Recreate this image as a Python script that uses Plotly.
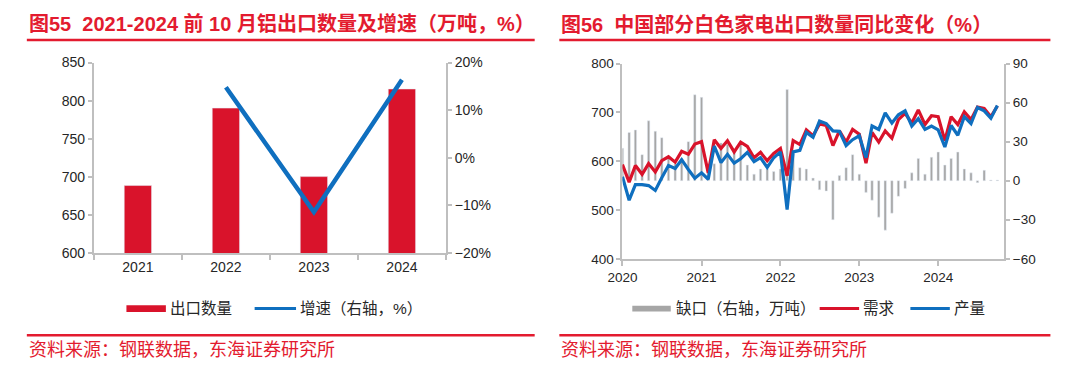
import pandas as pd
import plotly.graph_objects as go

# ---------------- data ----------------
years = ["2021", "2022", "2023", "2024"]
export_qty = [688.6, 790.2, 700.3, 815.3]          # 万吨
export_growth = [None, 0.148, -0.114, 0.164]        # 增速

month_start = "2020-01-01"
n_months = 58                                       # Jan 2020 - Oct 2024
year_labels = ["2020", "2021", "2022", "2023", "2024"]
demand = [593, 557, 591, 573, 595, 578, 601, 609, 598, 620, 614, 635,
          640, 576, 644, 626, 642, 619, 639, 630, 607, 618, 601, 616,
          626, 570, 642, 634, 664, 652, 676, 673, 632, 662, 639, 665,
          655, 596, 659, 639, 662, 647, 685, 698, 678, 705, 675, 693,
          691, 642, 691, 675, 701, 685, 711, 708, 691, 713]
production = [568, 520, 552, 552, 550, 540, 566, 591, 585, 603, 583, 565,
              576, 563, 631, 597, 614, 596, 605, 618, 599, 607, 587, 607,
              619, 501, 619, 622, 659, 649, 682, 677, 662, 661, 632, 644,
              652, 607, 672, 665, 699, 678, 695, 703, 672, 687, 665, 672,
              664, 629, 673, 653, 691, 677, 710, 703, 688, 714]
gap = [25, 37, 39, 20, 46, 38, 33, 18, 13, 17, 30, 66,
       64, 13, 13, 29, 28, 23, 30, 12, 5, 9, 9, 7,
       9, 70, 22, 10, 9, 2, -7, -8, -30, 4, 10, 20,
       5, -9, -15, -28, -38, -25, -12, -6, 6, 17, 5, 18,
       22, 12, 17, 22, 9, 6, -1.5, 8, 0.5, 0.5]

titles = ["图55  2021-2024 前 10 月铝出口数量及增速（万吨，%）",
          "图56  中国部分白色家电出口数量同比变化（%）"]
source_text = "资料来源：钢联数据，东海证券研究所"
legend1 = ["出口数量", "增速（右轴，%）"]
legend2 = ["缺口（右轴，万吨）", "需求", "产量"]

# ---------------- styles ----------------
W, H = 1080, 374
RED = "#D9132B"
TITLE_RED = "#E31B2F"
BLUE = "#0F6FBF"
GREY = "#A6A6A6"
AXIS = "#BFBFBF"
TXT = "#262626"
FONT = "Liberation Sans, Arial, Noto Sans CJK SC, sans-serif"


def px(x):
    return x / W


def py(y):
    return 1 - y / H


months = pd.date_range(month_start, periods=n_months, freq="MS")
year_ticks = pd.date_range(month_start, periods=len(year_labels), freq="12MS")

fig = go.Figure()

# panel 1
fig.add_trace(go.Bar(x=years, y=export_qty, name=legend1[0], marker_color=RED,
                     xaxis="x", yaxis="y", showlegend=False))
fig.add_trace(go.Scatter(x=years, y=export_growth, name=legend1[1], mode="lines",
                         line=dict(color=BLUE, width=4.5), xaxis="x", yaxis="y2",
                         showlegend=False))

# panel 2 (bars on base axis so lines are drawn above)
fig.add_trace(go.Bar(x=months, y=gap, name=legend2[0], marker_color=GREY,
                     width=11 * 86400000, xaxis="x2", yaxis="y3", showlegend=False))
fig.add_trace(go.Scatter(x=months, y=demand, name=legend2[1], mode="lines",
                         line=dict(color=RED, width=3.2), xaxis="x2", yaxis="y4",
                         showlegend=False))
fig.add_trace(go.Scatter(x=months, y=production, name=legend2[2], mode="lines",
                         line=dict(color=BLUE, width=3.2), xaxis="x2", yaxis="y4",
                         showlegend=False))

axis_common = dict(showline=True, linecolor=AXIS, linewidth=2, showgrid=False,
                   zeroline=False, ticks="outside", tickcolor=AXIS, ticklen=4,
                   tickwidth=1.5, tickfont=dict(family=FONT, size=14, color=TXT))

# domains
d1x = [px(80), px(437)]
d1y = [py(256), py(57)]
d2x = [px(616), px(1003)]
d2y = [py(262), py(58)]

TF2 = dict(family=FONT, size=13.5, color=TXT)

fig.update_layout(
    width=W, height=H, margin=dict(l=0, r=0, t=0, b=0),
    paper_bgcolor="white", plot_bgcolor="white",
    bargap=0.69, showlegend=False,
    xaxis=dict(axis_common, domain=d1x, type="category", tickson="boundaries",
               ticklen=5, anchor="y"),
    yaxis=dict(axis_common, domain=d1y, range=[600, 850], dtick=50, anchor="x"),
    yaxis2=dict(axis_common, domain=d1y, range=[-0.2, 0.2], dtick=0.1,
                tickformat=".0%", overlaying="y", side="right", anchor="x"),
    xaxis2=dict(axis_common, domain=d2x, type="date",
                range=[months[0], pd.Timestamp("2024-11-01")],
                tickvals=list(year_ticks), ticktext=year_labels, ticklen=5,
                anchor="y3", tickfont=TF2),
    yaxis3=dict(axis_common, domain=d2y, range=[-60, 90], dtick=30, side="right",
                anchor="x2", tickfont=TF2),
    yaxis4=dict(axis_common, domain=d2y, range=[400, 800], dtick=100, side="left",
                overlaying="y3", anchor="x2", tickfont=TF2),
)

shapes = []
annotations = []

# titles + rules
for x0, x1, t in [(12, 527, titles[0]), (552, 1050, titles[1])]:
    annotations.append(dict(x=px(x0), y=py(17), xref="paper", yref="paper",
                            xanchor="left", yanchor="middle", showarrow=False,
                            text="<b>" + t + "</b>",
                            font=dict(family=FONT, size=20, color=TITLE_RED)))
    shapes.append(dict(type="line", xref="paper", yref="paper", x0=px(x0), x1=px(x1),
                       y0=py(33.5), y1=py(33.5), line=dict(color=TITLE_RED, width=2.5)))
    shapes.append(dict(type="line", xref="paper", yref="paper", x0=px(x0), x1=px(x1),
                       y0=py(342), y1=py(342), line=dict(color=TITLE_RED, width=2.5)))
    annotations.append(dict(x=px(x0), y=py(357), xref="paper", yref="paper",
                            xanchor="left", yanchor="middle", showarrow=False,
                            text=source_text,
                            font=dict(family=FONT, size=18, color=TITLE_RED)))

LEG_Y = 314
LEG_FONT = dict(family=FONT, size=15.5, color=TXT)


def legend_rect(x0, x1, color, h):
    shapes.append(dict(type="rect", xref="paper", yref="paper", x0=px(x0), x1=px(x1),
                       y0=py(LEG_Y + h / 2), y1=py(LEG_Y - h / 2),
                       fillcolor=color, line=dict(width=0)))


def legend_line(x0, x1, color):
    shapes.append(dict(type="line", xref="paper", yref="paper", x0=px(x0), x1=px(x1),
                       y0=py(LEG_Y), y1=py(LEG_Y), line=dict(color=color, width=3)))


def legend_text(x, t):
    annotations.append(dict(x=px(x), y=py(LEG_Y), xref="paper", yref="paper",
                            xanchor="left", yanchor="middle", showarrow=False,
                            text=t, font=LEG_FONT))


legend_rect(113, 153, RED, 7)
legend_text(155, legend1[0])
legend_line(243, 285, BLUE)
legend_text(287, legend1[1])

legend_rect(626, 665, GREY, 6)
legend_text(668, legend2[0])
legend_line(816, 856, RED)
legend_text(858, legend2[1])
legend_line(908, 948, BLUE)
legend_text(950, legend2[2])

fig.update_layout(shapes=shapes, annotations=annotations)
fig.write_html("out.html",
               config={"displayModeBar": False},
               post_script="document.body.style.margin='0';"
                           "document.body.style.overflow='hidden';")
